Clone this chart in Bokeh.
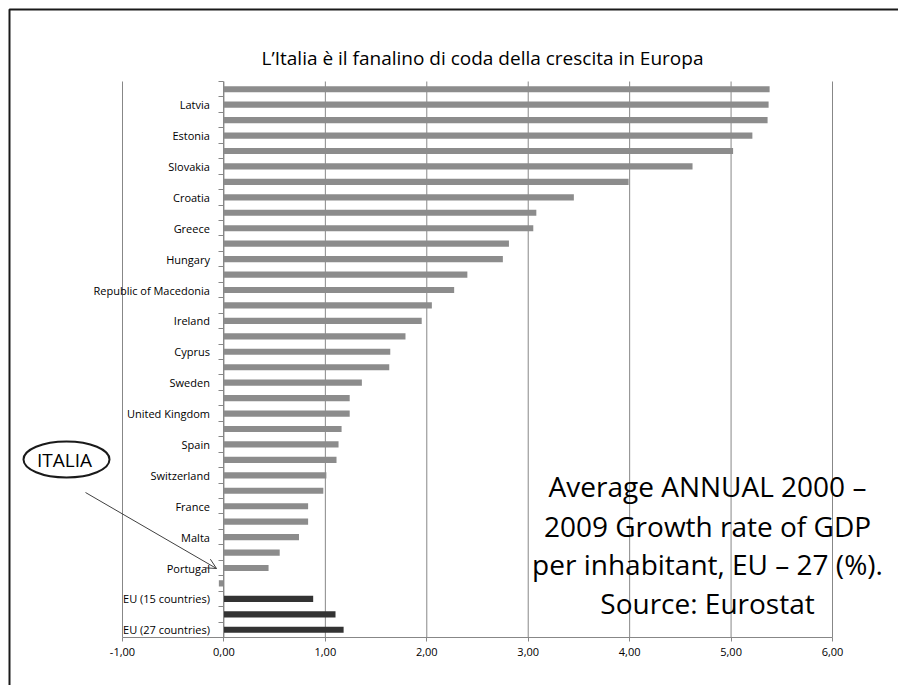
import math
from bokeh.plotting import figure
from bokeh.models import Range1d, FixedTicker, Label, ColumnDataSource
from bokeh.embed import file_html
from bokeh.resources import INLINE

# ---------------- data (bottom -> top, as in the chart) ----------------
# only every other category is labelled on the original chart
categories = ["EU (27 countries)", "", "EU (15 countries)", "", "Portugal", "",
              "Malta", "", "France", "", "Switzerland", "", "Spain", "",
              "United Kingdom", "", "Sweden", "", "Cyprus", "", "Ireland", "",
              "Republic of Macedonia", "", "Hungary", "", "Greece", "",
              "Croatia", "", "Slovakia", "", "Estonia", "", "Latvia", ""]
growth = [1.18, 1.10, 0.88, -0.05, 0.44, 0.55, 0.74, 0.83, 0.83, 0.98,
          1.01, 1.11, 1.13, 1.16, 1.24, 1.24, 1.36, 1.63, 1.64, 1.79,
          1.95, 2.05, 2.27, 2.40, 2.75, 2.81, 3.05, 3.08, 3.45, 3.99,
          4.62, 5.02, 5.21, 5.36, 5.37, 5.38]
kind = ["aggregate", "aggregate", "aggregate", "country", "country", "country",
        "country", "country", "country", "country", "country", "country",
        "country", "country", "country", "country", "country", "country",
        "country", "country", "country", "country", "country", "country",
        "country", "country", "country", "country", "country", "country",
        "country", "country", "country", "country", "country", "country"]
x_ticks = [-1, 0, 1, 2, 3, 4, 5, 6]
x_tick_labels = ["-1,00", "0,00", "1,00", "2,00", "3,00", "4,00", "5,00", "6,00"]

title_text = "L\u2019Italia è il fanalino di coda della crescita in Europa"
note_lines = ["Average ANNUAL 2000 \u2013",
              "2009 Growth rate of GDP",
              "per inhabitant, EU \u2013 27 (%).",
              "Source: Eurostat"]
callout_text = "ITALIA"

# ---------------- styling / layout ----------------
W, H = 898, 685
PL, PR, PT, PB = 122, 832, 81, 637          # plot-area edges in pixels
X0, X1 = x_ticks[0], x_ticks[-1]
N = len(categories)
Y0, Y1 = -0.5, N - 0.5
GRID = "#878787"
colors = {"aggregate": "#333333", "country": "#8C8C8C"}
FONT = "Open Sans"
BORDER = "#1a1a1a"
POINTER = "#404040"


def px_to_x(px):
    return X0 + (px - PL) * (X1 - X0) / (PR - PL)


def py_to_y(py):
    return Y0 + (PB - py) * (Y1 - Y0) / (PB - PT)


src = ColumnDataSource(dict(
    y=list(range(N)),
    growth=growth,
    color=[colors[k] for k in kind],
))

# frame covers the whole canvas so that labels outside the plot area show
p = figure(width=W, height=H,
           x_range=Range1d(px_to_x(0), px_to_x(W)),
           y_range=Range1d(py_to_y(H), py_to_y(0)),
           output_backend="svg", toolbar_location=None,
           min_border_left=0, min_border_right=0,
           min_border_top=0, min_border_bottom=0)
p.outline_line_color = None
p.background_fill_color = "white"
p.border_fill_color = "white"

# vertical gridlines limited to the plot area
p.xgrid.visible = False
p.ygrid.visible = False
p.segment(x0=x_ticks, x1=x_ticks, y0=Y0, y1=Y1, line_color=GRID, line_width=1)

p.hbar(y="y", left=0, right="growth", height=0.4, color="color",
       line_color=None, source=src)

# x axis (value axis) along the bottom of the plot area
xa = p.xaxis[0]
xa.fixed_location = Y0
xa.bounds = (X0, X1)
xa.ticker = FixedTicker(ticks=x_ticks)
xa.major_label_overrides = {t: l for t, l in zip(x_ticks, x_tick_labels)}
xa.axis_line_color = GRID
xa.major_tick_line_color = GRID
xa.major_tick_out = 4
xa.major_tick_in = 0
xa.minor_tick_line_color = None
xa.major_label_text_font = FONT
xa.major_label_text_font_size = "11px"
xa.major_label_text_color = "#000000"
xa.major_label_standoff = 6

# category axis crossing at zero
ya = p.yaxis[0]
ya.fixed_location = 0
ya.bounds = (Y0, Y1)
ya.ticker = FixedTicker(ticks=[i for i, c in enumerate(categories) if c],
                        minor_ticks=[i - 0.5 for i in range(N + 1)])
ya.major_label_overrides = {i: c for i, c in enumerate(categories) if c}
ya.axis_line_color = GRID
ya.major_tick_line_color = None
ya.major_tick_out = 0
ya.major_tick_in = 0
ya.minor_tick_line_color = GRID
ya.minor_tick_out = 5
ya.minor_tick_in = 0
ya.major_label_text_font = FONT
ya.major_label_text_font_size = "11px"
ya.major_label_text_color = "#000000"
ya.major_label_standoff = 9

# title
p.add_layout(Label(x=px_to_x(482), y=py_to_y(57), text=title_text,
                   text_align="center", text_baseline="alphabetic",
                   text_font=FONT, text_font_size="19px", text_color="#000000"))

# outer slide border: left and top edges only
p.line(x=[px_to_x(9), px_to_x(9), px_to_x(W)],
       y=[py_to_y(H), py_to_y(9), py_to_y(9)],
       line_color=BORDER, line_width=2)

# note text
for line, base in zip(note_lines, [485, 525, 563, 602]):
    p.add_layout(Label(x=px_to_x(707), y=py_to_y(base), text=line,
                       text_align="center", text_baseline="alphabetic",
                       text_font=FONT, text_font_size="28px",
                       text_color="#000000"))

# ITALIA callout
cx, cy, rx, ry = 66, 459, 43, 18
p.ellipse(x=[px_to_x(cx)], y=[py_to_y(cy)], width=2 * rx, height=2 * ry,
          width_units="screen", height_units="screen",
          fill_color=None, line_color=BORDER, line_width=2)
p.add_layout(Label(x=px_to_x(cx - 2), y=py_to_y(cy), text=callout_text,
                   text_align="center", text_baseline="middle",
                   text_font=FONT, text_font_size="19px", text_color="#000000"))

# pointer arrow with open head
sx0, sy0, sx1, sy1 = 85, 492, 216, 568
L = math.hypot(sx1 - sx0, sy1 - sy0)
dx, dy = (sx1 - sx0) / L, (sy1 - sy0) / L
nx, ny = -dy, dx
hs = 10
hx1, hy1 = sx1 - hs * dx + hs / 2 * nx, sy1 - hs * dy + hs / 2 * ny
hx2, hy2 = sx1 - hs * dx - hs / 2 * nx, sy1 - hs * dy - hs / 2 * ny
p.segment(x0=[px_to_x(sx0), px_to_x(hx1), px_to_x(hx2)],
          y0=[py_to_y(sy0), py_to_y(hy1), py_to_y(hy2)],
          x1=[px_to_x(sx1)] * 3, y1=[py_to_y(sy1)] * 3,
          line_color=POINTER, line_width=1)

open("out.html", "w").write(file_html(p, INLINE))
